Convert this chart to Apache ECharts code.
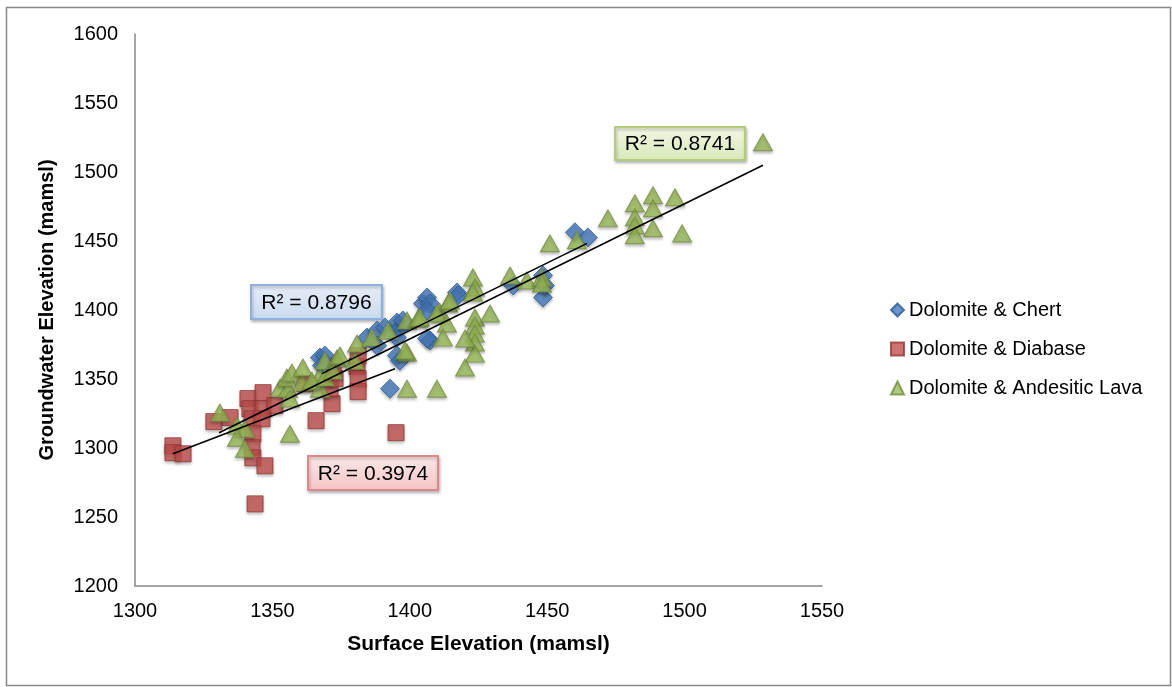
<!DOCTYPE html>
<html>
<head>
<meta charset="utf-8">
<script src="https://cdn.jsdelivr.net/npm/echarts@6/dist/echarts.min.js"></script>
<style>
  html, body { margin: 0; padding: 0; background: #fff; }
  #chart { width: 1172px; height: 687px; }
</style>
</head>
<body>
<div id="chart"></div>
<script>
// 系列名称
var seriesNames = ['Dolomite & Chert', 'Dolomite & Diabase', 'Dolomite & Andesitic Lava'];

// Dolomite & Chert [x, y]
var chertData = [
  [1367.3, 1365.5], [1369.1, 1367.0], [1368.0, 1359.7], [1384.4, 1380.0], [1388.1, 1385.1],
  [1388.1, 1374.2], [1391.0, 1387.3], [1395.3, 1390.9], [1396.4, 1386.6], [1395.3, 1380.0],
  [1395.3, 1367.0], [1396.4, 1363.3], [1392.8, 1343.0], [1397.5, 1392.4], [1404.8, 1404.7],
  [1406.3, 1409.1], [1407.4, 1404.7], [1406.3, 1399.6], [1407.4, 1377.9], [1406.3, 1379.3],
  [1417.2, 1412.7], [1417.5, 1410.5], [1437.6, 1417.8], [1448.5, 1425.0], [1448.5, 1409.1],
  [1449.2, 1417.8], [1460.1, 1456.3], [1464.8, 1452.6]
];

// Dolomite & Diabase [x, y]
var diabaseData = [
  [1313.8, 1301.6], [1313.8, 1296.6], [1317.5, 1295.8], [1328.7, 1319.1], [1334.6, 1322.0],
  [1341.1, 1335.8], [1341.8, 1328.5], [1346.6, 1340.1], [1346.6, 1328.5], [1350.9, 1330.7],
  [1342.6, 1321.2], [1346.2, 1321.2], [1342.9, 1310.3], [1342.6, 1300.2], [1342.9, 1292.9],
  [1347.3, 1287.1], [1343.7, 1259.5], [1365.9, 1319.8], [1371.7, 1332.1], [1371.0, 1343.0],
  [1372.8, 1350.3], [1372.1, 1359.7], [1380.8, 1359.0], [1381.2, 1350.3], [1381.2, 1340.8],
  [1381.2, 1366.9], [1361.9, 1346.6], [1395.0, 1311.1]
];

// Dolomite & Andesitic Lava [x, y]
var lavaData = [
  [1330.9, 1325.6], [1337.1, 1316.2], [1340.0, 1314.0], [1337.1, 1307.4], [1340.0, 1299.5],
  [1356.4, 1310.3], [1352.8, 1343.7], [1355.7, 1343.0], [1355.3, 1351.0], [1357.1, 1354.6],
  [1360.8, 1347.4], [1356.4, 1335.8], [1361.1, 1358.3], [1367.3, 1343.0], [1367.3, 1352.5],
  [1369.1, 1363.3], [1373.5, 1364.8], [1364.4, 1348.8], [1369.1, 1351.0], [1372.1, 1356.1],
  [1374.6, 1367.0], [1380.1, 1363.3], [1380.8, 1375.7], [1386.2, 1380.0], [1392.1, 1385.1],
  [1399.0, 1392.4], [1403.0, 1393.8], [1403.7, 1394.6], [1411.0, 1398.2], [1413.9, 1404.7],
  [1409.9, 1397.5], [1413.5, 1390.2], [1412.1, 1380.0], [1399.0, 1369.1], [1398.3, 1370.6],
  [1399.0, 1343.0], [1409.9, 1343.0], [1414.6, 1406.9], [1423.0, 1423.6], [1423.7, 1416.3],
  [1423.0, 1412.7], [1423.7, 1394.6], [1423.7, 1388.7], [1423.7, 1382.9], [1423.7, 1376.4],
  [1423.7, 1368.4], [1420.1, 1379.3], [1420.1, 1358.3], [1429.2, 1397.5], [1436.5, 1425.0],
  [1442.6, 1421.4], [1448.1, 1423.6], [1448.1, 1419.2], [1451.0, 1448.3], [1460.8, 1450.5],
  [1472.1, 1466.4], [1481.9, 1477.3], [1481.9, 1467.2], [1481.9, 1461.3], [1481.9, 1454.1],
  [1488.5, 1483.1], [1488.5, 1473.7], [1488.5, 1459.2], [1496.5, 1481.7], [1499.1, 1455.5],
  [1528.5, 1521.6]
];

// 趋势线端点
var chertTrend = [[1368.0, 1353.9], [1464.5, 1448.3]];
var diabaseTrend = [[1313.8, 1295.8], [1394.6, 1357.5]];
var lavaTrend = [[1330.6, 1311.1], [1528.5, 1504.9]];

// R² 标签
var r2Labels = ['R² = 0.8796', 'R² = 0.3974', 'R² = 0.8741'];

// 坐标轴
var xMin = 1300, xMax = 1550, yMin = 1200, yMax = 1600, tickStep = 50;

var font = 'Liberation Sans, Arial, sans-serif';

function trendSeries(data) {
  return {
    type: 'line',
    data: data,
    symbol: 'none',
    silent: true,
    z: 5,
    lineStyle: { color: '#000', width: 1.6 }
  };
}

function r2Box(left, top, w, h, text, c1, c2, border) {
  return {
    type: 'group',
    left: left,
    top: top,
    children: [{
      type: 'rect',
      shape: { x: 0, y: 0, width: w, height: h },
      style: {
        fill: new echarts.graphic.LinearGradient(0, 0, 0, 1, [
          { offset: 0, color: c1 }, { offset: 1, color: c2 }
        ]),
        stroke: border,
        lineWidth: 2,
        shadowBlur: 3,
        shadowOffsetX: 1,
        shadowOffsetY: 2,
        shadowColor: 'rgba(0,0,0,0.25)'
      }
    }, {
      type: 'text',
      x: w / 2,
      y: h / 2 + 1,
      style: {
        text: text,
        font: '21px ' + font,
        fill: '#000',
        align: 'center',
        verticalAlign: 'middle'
      }
    }],
    z: 20
  };
}

var option = {
  backgroundColor: '#fff',
  animation: false,
  textStyle: { fontFamily: font },
  grid: {
    left: 135,
    right: 350,
    top: 34,
    bottom: 101
  },
  legend: {
    data: seriesNames,
    orient: 'vertical',
    left: 885,
    top: 295,
    itemWidth: 13,
    itemHeight: 13,
    itemGap: 19,
    textStyle: { fontSize: 20, color: '#000', fontFamily: font }
  },
  xAxis: {
    type: 'value',
    min: xMin,
    max: xMax,
    interval: tickStep,
    name: 'Surface Elevation (mamsl)',
    nameLocation: 'middle',
    nameGap: 48,
    nameTextStyle: { fontSize: 21, fontWeight: 'bold', color: '#000' },
    axisLine: { lineStyle: { color: '#888', width: 1.5 } },
    axisTick: { show: false },
    axisLabel: {
      fontSize: 20, color: '#000', margin: 15,
      formatter: function (v) { return String(v); }
    },
    splitLine: { show: false }
  },
  yAxis: {
    type: 'value',
    min: yMin,
    max: yMax,
    interval: tickStep,
    name: 'Groundwater Elevation (mamsl)',
    nameLocation: 'middle',
    nameGap: 78,
    nameTextStyle: { fontSize: 20, fontWeight: 'bold', color: '#000' },
    axisLine: { show: true, lineStyle: { color: '#888', width: 1.5 } },
    axisTick: { show: false },
    axisLabel: {
      fontSize: 20, color: '#000', margin: 17,
      formatter: function (v) { return String(v); }
    },
    splitLine: { show: false }
  },
  series: [
    {
      name: seriesNames[0],
      type: 'scatter',
      data: chertData,
      symbol: 'diamond',
      symbolSize: [19, 19],
      z: 3,
      itemStyle: {
        color: '#4679ba', borderColor: '#2c5d98', borderWidth: 1,
        shadowBlur: 3, shadowOffsetY: 2, shadowColor: 'rgba(0,0,0,0.3)'
      }
    },
    {
      name: seriesNames[1],
      type: 'scatter',
      data: diabaseData,
      symbol: 'rect',
      symbolSize: [16, 16],
      z: 2,
      itemStyle: {
        color: '#c0504d', borderColor: '#943634', borderWidth: 1,
        shadowBlur: 3, shadowOffsetY: 2, shadowColor: 'rgba(0,0,0,0.3)'
      }
    },
    {
      name: seriesNames[2],
      type: 'scatter',
      data: lavaData,
      symbol: 'triangle',
      symbolSize: [19, 17],
      z: 4,
      itemStyle: {
        color: '#9bbb59', borderColor: '#71893f', borderWidth: 1,
        shadowBlur: 3, shadowOffsetY: 2, shadowColor: 'rgba(0,0,0,0.3)'
      }
    },
    trendSeries(chertTrend),
    trendSeries(diabaseTrend),
    trendSeries(lavaTrend)
  ],
  graphic: [
    {
      type: 'rect',
      left: 4,
      top: 5,
      shape: { width: 1164, height: 678 },
      style: { fill: 'none', stroke: '#888', lineWidth: 1.5 },
      silent: true
    },
    r2Box(250, 284, 131, 34, r2Labels[0], '#e6eef8', '#c9daf0', '#8eb0dc'),
    r2Box(307, 455, 130, 34, r2Labels[1], '#fbe8e8', '#f2c4c3', '#dc8a88'),
    r2Box(614, 126, 130, 33, r2Labels[2], '#f2f7e6', '#d9e8b8', '#b3cc7a')
  ]
};

var myChart = echarts.init(document.getElementById('chart'));
myChart.setOption(option);
</script>
</body>
</html>
